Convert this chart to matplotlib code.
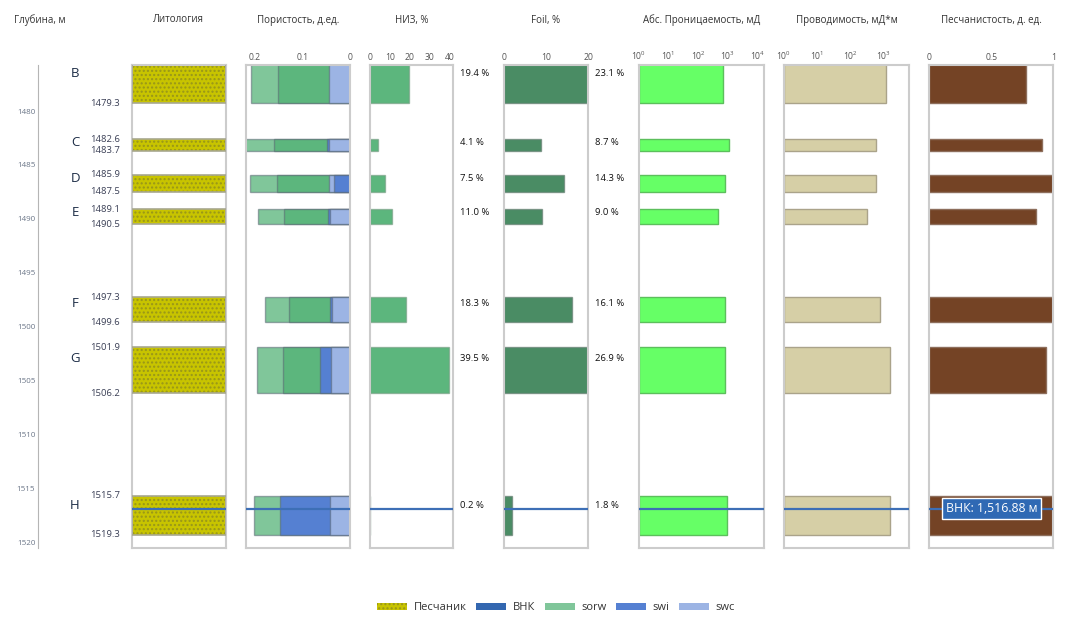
import numpy as np
import matplotlib
matplotlib.use('Agg')
import matplotlib.pyplot as plt
from matplotlib.patches import Patch
from matplotlib.ticker import LogFormatterSciNotation, FixedLocator
import matplotlib.transforms as mtransforms

plt.rcParams['font.family'] = ['Open Sans', 'DejaVu Sans']
plt.rcParams['hatch.linewidth'] = 1.0

# ---------------------------------------------------------------------------
# DATA
# ---------------------------------------------------------------------------
layers = ['B', 'C', 'D', 'E', 'F', 'G', 'H']
top_depth = [1475.6, 1482.6, 1485.9, 1489.1, 1497.3, 1501.9, 1515.7]
bot_depth = [1479.3, 1483.7, 1487.5, 1490.5, 1499.6, 1506.2, 1519.3]

# porosity track (fractions, all bars drawn from 0)
por_sorw = [0.208, 0.222, 0.211, 0.194, 0.179, 0.196, 0.203]
por_so = [0.151, 0.160, 0.153, 0.140, 0.128, 0.142, 0.0]
por_swi = [0.0, 0.047, 0.034, 0.045, 0.041, 0.062, 0.147]
por_swc = [0.043, 0.044, 0.043, 0.041, 0.037, 0.040, 0.041]

niz = [19.4, 4.1, 7.5, 11.0, 18.3, 39.5, 0.2]
foil = [23.1, 8.7, 14.3, 9.0, 16.1, 26.9, 1.8]
perm = [695, 1100, 790, 447, 800, 810, 920]
cond = [1170, 590, 590, 316, 790, 1590, 1590]
sand = [0.78, 0.91, 1.0, 0.86, 1.0, 0.94, 1.0]

vnk_depth = 1516.88
depth_ticks = [1480, 1485, 1490, 1495, 1500, 1505, 1510, 1515, 1520]

# ---------------------------------------------------------------------------
# LAYOUT
# ---------------------------------------------------------------------------
W, H = 1076, 630
AX_TOP, AX_BOT = 65, 548
Y_TOP, Y_BOT = 1475.73, 1520.54

C_FRAME = '#cccccc'
C_SAND = '#c8c400'
C_DOTS = '#98961a'
C_SORW = '#80c69a'
C_SO = '#5cb67d'
C_SWI = '#5580d2'
C_SWC = '#9cb4e4'
C_NIZ = '#5cb67d'
C_FOIL = '#4a8c64'
C_PERM = '#66ff66'
C_COND = '#d6cfa6'
C_BROWN = '#744325'
C_VNK = '#3d6fb6'

fig = plt.figure(figsize=(W / 100, H / 100), dpi=100)

mid = [(t + b) / 2 for t, b in zip(top_depth, bot_depth)]
thick = [b - t for t, b in zip(top_depth, bot_depth)]
label_y = [t + 0.25 * (b - t) for t, b in zip(top_depth, bot_depth)]


def track(x0, x1, title, title_x=None):
    ax = fig.add_axes([x0 / W, 1 - AX_BOT / H, (x1 - x0) / W, (AX_BOT - AX_TOP) / H])
    ax.set_ylim(Y_BOT, Y_TOP)
    ax.set_yticks([])
    for sp in ax.spines.values():
        sp.set_color(C_FRAME)
        sp.set_linewidth(1.5)
    ax.xaxis.tick_top()
    ax.tick_params(axis='x', length=0, pad=2, labelsize=6.2, labelcolor='#555555')
    if title_x is None:
        title_x = (x0 + x1) / 2
    fig.text(title_x / W, 1 - 20 / H, title, ha='center', va='center',
             fontsize=7, color='#333333')
    return ax


def vnk_line(ax):
    ax.axhline(vnk_depth, color=C_VNK, lw=1.6, zorder=5)


# depth axis
ax_d = fig.add_axes([38 / W, 1 - AX_BOT / H, (131 - 38) / W, (AX_BOT - AX_TOP) / H])
ax_d.set_ylim(Y_BOT, Y_TOP)
ax_d.set_xlim(0, 1)
ax_d.set_xticks([])
ax_d.set_yticks(depth_ticks)
ax_d.tick_params(axis='y', length=0, pad=2, labelsize=5.8, labelcolor='#6b7688')
for s in ['top', 'right', 'bottom']:
    ax_d.spines[s].set_visible(False)
ax_d.spines['left'].set_color('#b5b5b5')
ax_d.patch.set_alpha(0)
fig.text(40 / W, 1 - 20 / H, 'Глубина, м', ha='center', va='center', fontsize=7, color='#333333')

for i, name in enumerate(layers):
    ax_d.text((75 - 38) / 93, label_y[i], name, ha='center', va='center',
              fontsize=9.5, color='#1a2a44', transform=ax_d.get_yaxis_transform())
    for d in (top_depth[i], bot_depth[i]):
        if d <= Y_TOP:
            continue
        ax_d.text((120 - 38) / 93, d, f'{d:.1f}', ha='right', va='center',
                  fontsize=6.8, color='#3a3f55', transform=ax_d.get_yaxis_transform())

# lithology
ax_l = track(131.5, 225.5, 'Литология')
ax_l.set_xlim(0, 1)
ax_l.set_xticks([])
ax_l.barh(mid, 1, height=thick, left=0, color=C_SAND, edgecolor=C_DOTS,
          hatch='....', linewidth=0, zorder=2)
ax_l.barh(mid, 1, height=thick, left=0, color='none', edgecolor='#a8a890',
          linewidth=1.2, zorder=3)
vnk_line(ax_l)

# porosity
ax_p = track(245.7, 349.7, 'Пористость, д.ед.')
ax_p.set_xlim(0.22, 0)
ax_p.xaxis.set_major_locator(FixedLocator([0.2, 0.1, 0]))
ax_p.set_xticklabels(['0.2', '0.1', '0'])
por_series = [(por_sorw, C_SORW), (por_so, C_SO), (por_swi, C_SWI), (por_swc, C_SWC)]
for i in range(len(layers)):
    # larger extents go behind
    for vals, col in sorted(por_series, key=lambda s: -s[0][i]):
        if vals[i] <= 0:
            continue
        ax_p.barh(mid[i], vals[i], height=thick[i], left=0, color=col,
                  edgecolor=(0.35, 0.4, 0.45, 0.55), linewidth=1, zorder=2)
vnk_line(ax_p)

# НИЗ
ax_n = track(369.7, 453, 'НИЗ, %')
ax_n.set_xlim(0, 41.5)
ax_n.set_xticks([0, 10, 20, 30, 40])
ax_n.barh(mid, niz, height=thick, color=C_NIZ, edgecolor=(0.45, 0.6, 0.5, 0.6),
          linewidth=1, zorder=2)
vnk_line(ax_n)
tr_n = mtransforms.blended_transform_factory(fig.transFigure, ax_n.transData)
for i, v in enumerate(niz):
    fig.text(460.5 / W, label_y[i], f'{v:.1f} %', ha='left', va='center',
             fontsize=6.8, color='#111111', transform=tr_n)

# Foil
ax_f = track(504, 588, 'Foil, %')
ax_f.set_xlim(0, 20)
ax_f.set_xticks([0, 10, 20])
ax_f.barh(mid, foil, height=thick, color=C_FOIL, edgecolor=(0.4, 0.5, 0.45, 0.7),
          linewidth=1, zorder=2)
vnk_line(ax_f)
for i, v in enumerate(foil):
    fig.text(595 / W, label_y[i], f'{v:.1f} %', ha='left', va='center',
             fontsize=6.8, color='#111111', transform=tr_n)

# permeability
ax_k = track(638.7, 763.8, 'Абс. Проницаемость, мД')
ax_k.set_xscale('log')
ax_k.set_xlim(1, 16000)
ax_k.xaxis.set_major_locator(FixedLocator([1, 10, 100, 1000, 10000]))
ax_k.xaxis.set_major_formatter(LogFormatterSciNotation())
ax_k.xaxis.set_minor_locator(FixedLocator([]))
ax_k.barh(mid, [v - 1 for v in perm], height=thick, left=1, color=C_PERM,
          edgecolor='#5cbf5c', linewidth=1, zorder=2)
vnk_line(ax_k)

# conductivity
ax_c = track(784, 909, 'Проводимость, мД*м')
ax_c.set_xscale('log')
ax_c.set_xlim(1, 6000)
ax_c.xaxis.set_major_locator(FixedLocator([1, 10, 100, 1000]))
ax_c.xaxis.set_major_formatter(LogFormatterSciNotation())
ax_c.xaxis.set_minor_locator(FixedLocator([]))
ax_c.barh(mid, [v - 1 for v in cond], height=thick, left=1, color=C_COND,
          edgecolor='#aaa38a', linewidth=1, zorder=2)
vnk_line(ax_c)

# sand fraction
ax_s = track(929.3, 1053.5, 'Песчанистость, д. ед.')
ax_s.set_xlim(0, 1)
ax_s.xaxis.set_major_locator(FixedLocator([0, 0.5, 1]))
ax_s.set_xticklabels(['0', '0.5', '1'])
ax_s.barh(mid, sand, height=thick, color=C_BROWN, edgecolor='#8d6e5c',
          linewidth=1, zorder=2)
vnk_line(ax_s)
ax_s.text(0.135, vnk_depth, f'ВНК: {vnk_depth:,.2f} м', ha='left', va='center',
          fontsize=8.8, color='white', zorder=6, transform=ax_s.get_yaxis_transform(),
          bbox=dict(boxstyle='square,pad=0.3', facecolor='#2f69b4', edgecolor='white', lw=1))

# legend
handles = [
    Patch(facecolor=C_SAND, edgecolor=C_DOTS, hatch='....', linewidth=0, label='Песчаник'),
    Patch(facecolor='#3367b0', edgecolor='none', label='ВНК'),
    Patch(facecolor=C_SORW, edgecolor='none', label='sorw'),
    Patch(facecolor=C_SWI, edgecolor='none', label='swi'),
    Patch(facecolor=C_SWC, edgecolor='none', label='swc'),
]
fig.legend(handles=handles, loc='center', bbox_to_anchor=(556 / W, 1 - 608 / H), ncol=5,
           frameon=False, fontsize=8, handlelength=2.7, handleheight=0.5,
           handletextpad=0.55, columnspacing=0.9, labelcolor='#333333')

plt.savefig('out.png', dpi=100)
plt.close()
